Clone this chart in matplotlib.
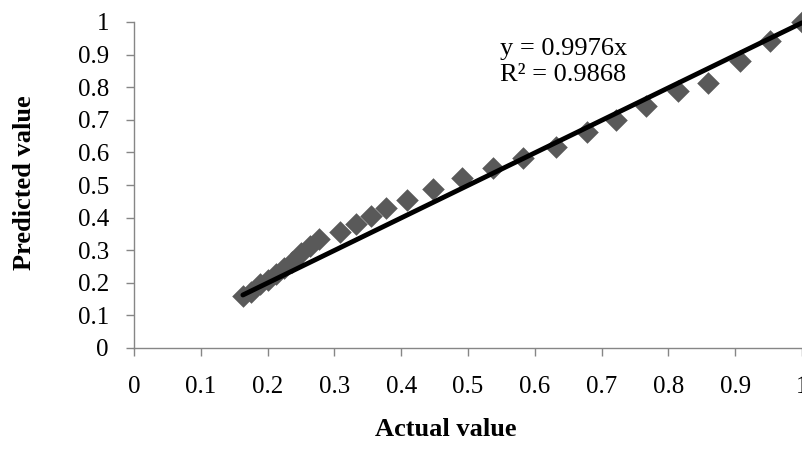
import matplotlib
matplotlib.use("Agg")
import matplotlib.pyplot as plt
import numpy as np

actual = [0.163, 0.175, 0.188, 0.200, 0.212, 0.224, 0.237, 0.250, 0.263, 0.277,
          0.308, 0.332, 0.355, 0.377, 0.408, 0.447, 0.491, 0.537, 0.583, 0.632,
          0.678, 0.722, 0.767, 0.815, 0.860, 0.907, 0.952, 1.000]
predicted = [0.158, 0.172, 0.195, 0.208, 0.228, 0.245, 0.265, 0.290, 0.312, 0.335,
             0.355, 0.380, 0.405, 0.430, 0.455, 0.487, 0.520, 0.552, 0.582, 0.618,
             0.662, 0.700, 0.743, 0.787, 0.812, 0.880, 0.942, 1.000]
slope = 0.9976
r2 = 0.9868
ticks = [0, 0.1, 0.2, 0.3, 0.4, 0.5, 0.6, 0.7, 0.8, 0.9, 1]
tick_labels = ["0", "0.1", "0.2", "0.3", "0.4", "0.5", "0.6", "0.7", "0.8", "0.9", "1"]

plt.rcParams['font.family'] = ['Liberation Serif', 'DejaVu Serif']

fig = plt.figure(figsize=(8.03, 4.5), dpi=100)
W, H = 803, 450
x0, x1, y0, y1 = 134, 802, 348, 22
ax = fig.add_axes([x0 / W, 1 - y0 / H, (x1 - x0) / W, (y0 - y1) / H])

ax.scatter(actual, predicted, marker='D', s=11.5**2, color='#595959', linewidths=0, zorder=2, clip_on=False)
xl = np.array([min(actual), max(actual)])
ax.plot(xl, slope * xl, color='black', linewidth=3.5, solid_capstyle='round', zorder=3, clip_on=False)

ax.set_xlim(0, 1)
ax.set_ylim(0, 1)
ax.set_xticks(ticks)
ax.set_xticklabels(tick_labels)
ax.set_yticks(ticks)
ax.set_yticklabels(tick_labels)
for s in ['top', 'right']:
    ax.spines[s].set_visible(False)
for s in ['left', 'bottom']:
    ax.spines[s].set_color('#868686')
    ax.spines[s].set_linewidth(1.0)
ax.tick_params(axis='both', direction='out', length=6, width=1.0, color='#868686',
               labelsize=18, labelcolor='black')
ax.tick_params(axis='x', pad=14)
ax.tick_params(axis='y', pad=12)

ax.text(0.548, 0.805, "y = %.4fx\nR² = %.4f" % (slope, r2), transform=ax.transAxes,
        fontsize=19, ha='left', va='bottom', linespacing=1.2)

fig.text(446 / W, 1 - 430 / H, "Actual value", fontsize=19, fontweight='bold',
         ha='center', va='center')
fig.text(25 / W, 1 - 183 / H, "Predicted value", fontsize=19, fontweight='bold',
         ha='center', va='center', rotation=90)

fig.savefig("out.png", dpi=100)
